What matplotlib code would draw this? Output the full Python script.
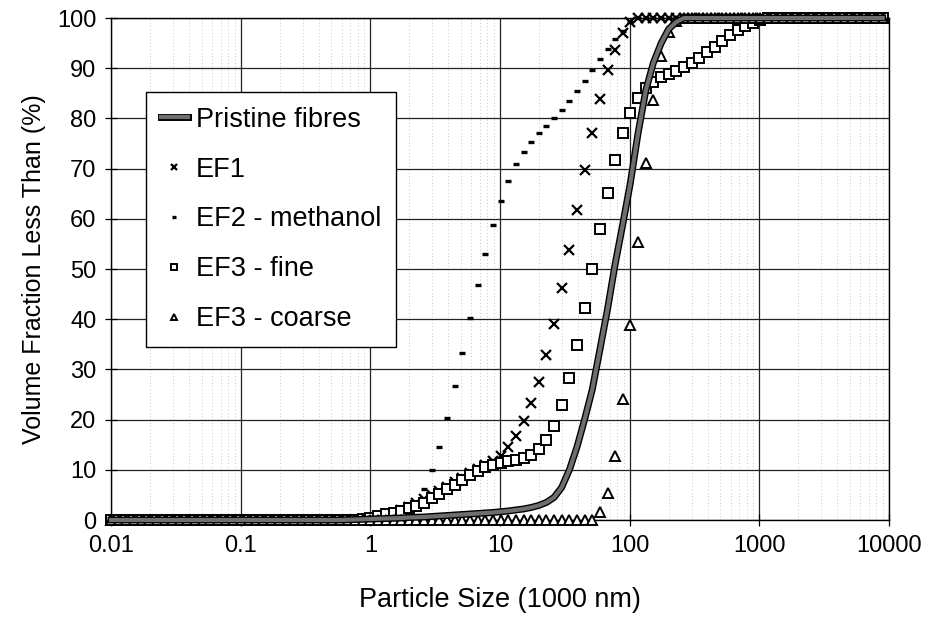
import matplotlib
matplotlib.use("Agg")
import matplotlib.pyplot as plt
import matplotlib.patheffects as pe
from matplotlib.ticker import LogLocator, NullFormatter
import numpy as np

plt.rcParams['font.family'] = ['Liberation Sans', 'DejaVu Sans']

# particle size bins (um), one row per decade
size_um = [
    0.0100, 0.0115, 0.0131, 0.0150, 0.0172, 0.0197, 0.0226, 0.0259, 0.0296, 0.0339, 0.0389, 0.0445, 0.0510, 0.0584, 0.0669, 0.0766, 0.0877,
    0.100, 0.115, 0.131, 0.150, 0.172, 0.197, 0.226, 0.259, 0.296, 0.339, 0.389, 0.445, 0.510, 0.584, 0.669, 0.766, 0.877,
    1.00, 1.15, 1.32, 1.51, 1.73, 1.98, 2.27, 2.60, 2.98, 3.41, 3.91, 4.47, 5.12, 5.87, 6.72, 7.70, 8.82,
    10.1, 11.6, 13.2, 15.2, 17.4, 19.9, 22.8, 26.1, 29.9, 34.3, 39.2, 44.9, 51.5, 59.0, 67.5, 77.3, 88.6,
    101, 116, 133, 152, 175, 200, 229, 262, 301, 344, 394, 452, 517, 592, 679, 777, 890,
    1020, 1170, 1340, 1530, 1750, 2000, 2300, 2640, 3020, 3460, 3960, 4540, 5200, 5950, 6820, 7810, 8940,
]

pristine = [
    0, 0, 0, 0, 0, 0, 0, 0, 0, 0, 0, 0, 0, 0, 0, 0, 0,
    0, 0, 0, 0, 0, 0, 0, 0, 0, 0, 0, 0, 0, 0, 0.05, 0.1, 0.15,
    0.2, 0.25, 0.3, 0.35, 0.4, 0.5, 0.55, 0.6, 0.7, 0.8, 0.9, 1.0, 1.1, 1.2, 1.3, 1.4, 1.5,
    1.65, 1.8, 2.0, 2.2, 2.5, 2.9, 3.5, 4.5, 6.5, 10, 14.5, 20, 26, 34, 42, 51, 59,
    67, 77, 85.5, 91, 95, 97.8, 99.2, 100, 100, 100, 100, 100, 100, 100, 100, 100, 100,
    100, 100, 100, 100, 100, 100, 100, 100, 100, 100, 100, 100, 100, 100, 100, 100, 100,
]

ef1 = [
    0, 0, 0, 0, 0, 0, 0, 0, 0, 0, 0, 0, 0, 0, 0, 0, 0,
    0, 0, 0, 0, 0, 0, 0, 0, 0, 0, 0, 0, 0, 0, 0, 0, 0.1,
    0.3, 0.6, 1.0, 1.4, 2.0, 2.6, 3.3, 4.1, 4.9, 5.7, 6.6, 7.5, 8.4, 9.3, 10.2, 11.0, 11.8,
    12.7, 14.5, 16.7, 19.7, 23.3, 27.5, 32.9, 39, 46.2, 53.8, 61.8, 69.7, 77.1, 83.9, 89.6, 93.6, 97,
    99.3, 100, 100, 100, 100, 100, 100, 100, 100, 100, 100, 100, 100, 100, 100, 100, 100,
    100, 100, 100, 100, 100, 100, 100, 100, 100, 100, 100, 100, 100, 100, 100, 100, 100,
]

ef2_methanol = [
    0, 0, 0, 0, 0, 0, 0, 0, 0, 0, 0, 0, 0, 0, 0, 0, 0,
    0, 0, 0, 0, 0, 0, 0, 0, 0, 0, 0, 0, 0, 0, 0, 0, 0,
    0, 0, 0, 0.3, 0.8, 1.8, 3.5, 6.2, 10, 14.6, 20.3, 26.7, 33.3, 40.2, 46.8, 53, 58.8,
    63.5, 67.5, 70.9, 73.3, 75.3, 77.1, 78.5, 80.1, 81.6, 83.4, 85.5, 87.5, 89.6, 91.8, 93.8, 95.8, 97.5,
    99.3, 100, 100, 100, 100, 100, 100, 100, 100, 100, 100, 100, 100, 100, 100, 100, 100,
    100, 100, 100, 100, 100, 100, 100, 100, 100, 100, 100, 100, 100, 100, 100, 100, 100,
]

ef3_fine = [
    0, 0, 0, 0, 0, 0, 0, 0, 0, 0, 0, 0, 0, 0, 0, 0, 0,
    0, 0, 0, 0, 0, 0, 0, 0, 0, 0, 0, 0, 0, 0, 0, 0.1, 0.3,
    0.5, 0.8, 1.2, 1.4, 1.8, 2.4, 2.8, 3.4, 4.4, 5.2, 6.2, 7.0, 8.0, 9.0, 9.8, 10.5, 10.9,
    11.3, 11.7, 11.9, 12.3, 12.9, 14.1, 15.9, 18.7, 22.9, 28.3, 34.9, 42.2, 50, 58, 65.1, 71.7, 77.1,
    81.1, 84, 86, 87.3, 88.2, 88.8, 89.4, 90.2, 91, 92, 93.2, 94.2, 95.4, 96.6, 97.6, 98.4, 99,
    99.6, 100, 100, 100, 100, 100, 100, 100, 100, 100, 100, 100, 100, 100, 100, 100, 100,
]

ef3_coarse = [
    0, 0, 0, 0, 0, 0, 0, 0, 0, 0, 0, 0, 0, 0, 0, 0, 0,
    0, 0, 0, 0, 0, 0, 0, 0, 0, 0, 0, 0, 0, 0, 0, 0, 0,
    0, 0, 0, 0, 0, 0, 0, 0, 0, 0, 0, 0, 0, 0, 0, 0, 0,
    0, 0, 0, 0, 0, 0, 0, 0, 0, 0, 0, 0, 0, 1.6, 5.4, 12.8, 24.2,
    38.8, 55.4, 71.1, 83.7, 92.4, 97.2, 99.5, 100, 100, 100, 100, 100, 100, 100, 100, 100, 100,
    100, 100, 100, 100, 100, 100, 100, 100, 100, 100, 100, 100, 100, 100, 100, 100, 100,
]

x_ticks = [0.01, 0.1, 1, 10, 100, 1000, 10000]
x_ticklabels = ["0.01", "0.1", "1", "10", "100", "1000", "10000"]
y_ticks = [0, 10, 20, 30, 40, 50, 60, 70, 80, 90, 100]

fig = plt.figure(figsize=(9.35, 6.26), dpi=100)
ax = fig.add_axes([0.1187, 0.1693, 0.8321, 0.8019])

ax.set_xscale("log")
ax.set_xlim(0.01, 10000)
ax.set_ylim(0, 100)

ax.plot(size_um, ef1, linestyle="none", marker="x", color="black",
        markersize=7, markeredgewidth=1.6, label="EF1", clip_on=False, zorder=3)
ax.plot(size_um, ef2_methanol, linestyle="none", marker="_", color="black",
        markersize=4.5, markeredgewidth=2.4, label="EF2 - methanol", clip_on=False, zorder=3)
ax.plot(size_um, ef3_fine, linestyle="none", marker="s", color="black",
        markerfacecolor="white", markersize=6.5, markeredgewidth=1.4,
        label="EF3 - fine", clip_on=False, zorder=3)
ax.plot(size_um, ef3_coarse, linestyle="none", marker="^", color="black",
        markerfacecolor="white", markersize=7, markeredgewidth=1.4,
        label="EF3 - coarse", clip_on=False, zorder=3)
ax.plot(size_um, pristine, color="#6e6e6e", linewidth=3.0,
        label="Pristine fibres", clip_on=False, zorder=4,
        path_effects=[pe.Stroke(linewidth=5.0, foreground="black"), pe.Normal()])

ax.set_xticks(x_ticks)
ax.set_xticklabels(x_ticklabels)
ax.set_yticks(y_ticks)
ax.xaxis.set_minor_locator(LogLocator(base=10, subs=np.arange(2, 10), numticks=20))
ax.xaxis.set_minor_formatter(NullFormatter())

ax.grid(True, which="major", color="#222222", linewidth=0.9, linestyle="-")
ax.grid(True, which="minor", axis="x", color="#b5b5b5", linewidth=0.6, linestyle=(0, (1, 3)))
ax.set_axisbelow(True)

ax.tick_params(which="major", direction="inout", length=9, width=0.9,
               labelsize=17, pad=6, colors="black")
ax.tick_params(which="minor", length=0)
for s in ax.spines.values():
    s.set_color("black")
    s.set_linewidth(1.0)

ax.set_xlabel("Particle Size (1000 nm)", fontsize=19.5, labelpad=22)
ax.set_ylabel("Volume Fraction Less Than (%)", fontsize=18, labelpad=8)

handles, labels = ax.get_legend_handles_labels()
order = [4, 0, 1, 2, 3]
leg = ax.legend([handles[i] for i in order], [labels[i] for i in order],
                loc="upper left", bbox_to_anchor=(0.045, 0.853), borderaxespad=0,
                fontsize=19.5, fancybox=False, framealpha=1, edgecolor="black",
                handlelength=1.0, handletextpad=0.3, labelspacing=0.88,
                borderpad=0.55, markerscale=0.7)
leg.get_frame().set_linewidth(1.0)
leg.set_zorder(10)

fig.savefig("out.png", dpi=100)
